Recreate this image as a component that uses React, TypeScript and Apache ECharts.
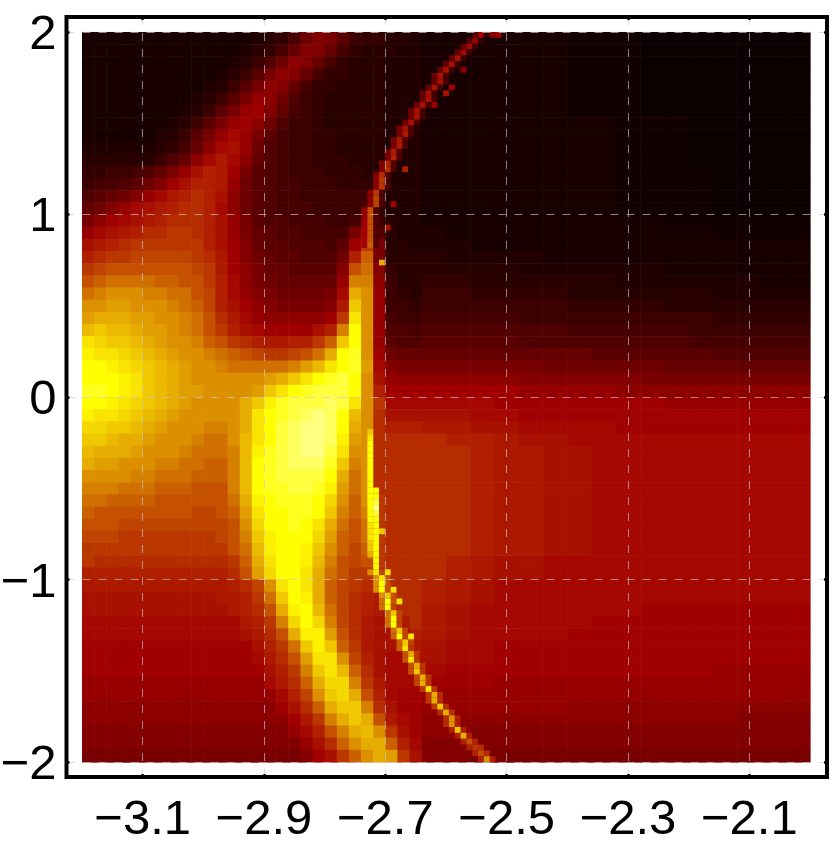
import React, { useEffect, useRef } from "react";
import * as echarts from "echarts";

const xTickValues = [-3.1, -2.9, -2.7, -2.5, -2.3, -2.1];
const yTickValues = [-2, -1, 0, 1, 2];
const colorStops = ["#0c0000","#180000","#280000","#3c0000","#500000","#640000","#780000","#8c0000","#a00000","#a81000","#b02000","#ba3800","#c45000","#d07000","#dc9000","#e6ac00","#f0c800","#f8e400","#ffff00","#ffff40","#ffff80"];

// left part: 28 narrow columns, right part: 16 wide columns; one row per 1/15 of y, top to bottom
const row00 = [1,1,1,1,1,1,1,1,1,1,1,1,1,1,1.5,2,2.5,3.5,5.5,6.5,6,4.5,3,2.5,2.5,2,2,1.5, 1,1,1,1,1,1,0.5,0.5,0.5,0,0,0,0,0,0,0];
const row01 = [1,1,1,1,1,1,1,1,1,1,1,1,1,1.5,2,2.5,3.5,5,6.5,6.5,5,3.5,2.5,2,2,2,1.5,1.5, 1,1,1,1,1,1,0.5,0.5,0.5,0,0,0,0,0,0,0];
const row02 = [1,1,1,1,1,1,1,1,1,1,1,1,1.5,2,3,4,5.5,7,6.5,5,3.5,2.5,2,2,2,1.5,1.5,1.5, 1,1,1,1,1,1,0.5,0.5,0.5,0,0,0,0,0,0,0];
const row03 = [1,1,1,1,1,1,1,1,1,1,1,1.5,2,3,4.5,6,7,6.5,5,3.5,2.5,2.5,2,2,2,1.5,1.5,1.5, 1,1,1,1,1,1,0.5,0.5,0.5,0,0,0,0,0,0,0];
const row04 = [1,1,1,1,1,1,1,1,1,1,1.5,2,3,4.5,6,7,6.5,5,3.5,2.5,2.5,2,2,2,2,1.5,1.5,1.5, 1,1,1,1,1,1,0.5,0.5,0.5,0,0,0,0,0,0,0];
const row05 = [1,1,1,1,1,1,1,1,1,1.5,2,3,4.5,6,7.5,7,5.5,4,3,2.5,2,2,2,2,2,1.5,1.5,1.5, 1,1,1,1,1,1,0.5,0.5,0.5,0,0,0,0,0,0,0];
const row06 = [1,1,1,1,1,1,1,1,1.5,2,3,4.5,6,7.5,8,6.5,5,3.5,3,2.5,2,2,2,2,2,1.5,1.5,1.5, 1,1,1,1,1,1,0.5,0.5,0.5,0,0,0,0,0,0,0];
const row07 = [1,1,1,1,1,1,1,1.5,2,3,4.5,6,7.5,8,7,5.5,4,3,3,2.5,2,2,2,2,2,1.5,1.5,1.5, 1,1,1,1,1,1,1,1,0.5,0.5,0.5,0,0,0,0,0];
const row08 = [1,1,1,1,1,1,1.5,2,3,4.5,6,7.5,8.5,7.5,6,4.5,3.5,3,3,2.5,2.5,2,2,2,2,1.5,1.5,1.5, 1,1,1,1,1,1,1,1,0.5,0.5,0.5,0,0,0,0,0];
const row09 = [1.5,1.5,1.5,1.5,1.5,1.5,2,2.5,3.5,5,7,8.5,9,7.5,5.5,4,3.5,3,3,2.5,2.5,2,2,2,2,1.5,1.5,1.5, 1,1,1,1,1,1,1,1,0.5,0.5,0.5,0,0,0,0,0];
const row10 = [2,2,2,2,2,2,3,4,5,7,8.5,9.5,8.5,7,5,4,3.5,3,3,2.5,2.5,2.5,2,2,2,1.5,1.5,1.5, 1,1,1,1,1,1,1,1,0.5,0.5,0.5,0,0,0,0,0];
const row11 = [2.5,2.5,3,3,3.5,4,5,6,7.5,9,10,9.5,8,6,4.5,4,3.5,3,3,3,2.5,2.5,2.5,2,2,1.5,1.5,1.5, 1,1,1,1,1,1,1,1,0.5,0.5,0.5,0.5,0,0,0,0];
const row12 = [3,3.5,3.5,4,4.5,5.5,6.5,8,9,10,10,9.5,7.5,5.5,4.5,4,3.5,3.5,3,3,3,2.5,2.5,2.5,2,1.5,1.5,1.5, 1,1,1,1,1,1,1,1,0.5,0.5,0.5,0.5,0,0,0,0];
const row13 = [4,4.5,5,5.5,6.5,7.5,8.5,9.5,10,10.5,10,9,7,5.5,4.5,4,3.5,3.5,3,3,3,3,3,3,2,1.5,1.5,1.5, 1,1,1,1,1,1,1,1,0.5,0.5,0.5,0.5,0,0,0,0];
const row14 = [5,5.5,6.5,7.5,8.5,9,9.5,10,10.5,10.5,10,8.5,7,5.5,4.5,4,3.5,3.5,3.5,3,3,3,3,3.5,2.5,1.5,1.5,1.5, 1,1,1,1,1,1,1,1,0.5,0.5,0.5,0.5,0,0,0,0];
const row15 = [6,7,8,8.5,9,9.5,10,10.5,10.5,10.5,10,9,7.5,6,4.5,4,4,3.5,3.5,3.5,3,3,3.5,6,3,2,1.5,1.5, 1,1,1,1,1,1,1,1,1,1,0.5,0.5,0.5,0.5,0.5,0.5];
const row16 = [7.5,8.5,9,9.5,10,10.5,10.5,11,11,10.5,10,9,7.5,6,5,4.5,4,4,3.5,3.5,3.5,3.5,6,9,4,2,1.5,1.5, 1.5,1,1,1,1,1,1,1,1,1,1,1,0.5,0.5,0.5,0.5];
const row17 = [9,9.5,10,10.5,11,11,11,11,11,11,10,9,8,6.5,5,4.5,4.5,4,4,4,3.5,4.5,8,11,6,2,2,1.5, 1.5,1.5,1,1,1,1,1,1,1,1,1,1,1,1,1,1];
const row18 = [10,10.5,11,11,11.5,11.5,11.5,11.5,11.5,11,10.5,9.5,8,6.5,5.5,5,4.5,4.5,4,4,4,5.5,10,12.5,6,2,2,2, 2,1.5,1.5,1.5,1.5,1,1,1,1,1,1,1,1,1,1,1];
const row19 = [11,11.5,12,12,12,12,12,12,12,11.5,11,9.5,8,7,6,5,5,4.5,4.5,4.5,4.5,6.5,12,13,6.5,2.5,2,2, 2,2,2,2,1.5,1.5,1.5,1.5,1.5,1.5,1,1,1,1,1,1];
const row20 = [12,12.5,13,13,13,13,12.5,12.5,12,12,11,10,8.5,7,6,5.5,5,5,5,5,5,7.5,13.5,13.5,7,3,2,2, 2.5,2.5,2,2,2,2,2,2,1.5,1.5,1.5,1.5,1.5,1.5,1,1];
const row21 = [13,13.5,14,14,14,13.5,13.5,13,13,12,11.5,10,8.5,7.5,6.5,6,5.5,5.5,5.5,5.5,6,8.5,15,14,7.5,3,2.5,2, 3,3,2.5,2.5,2.5,2.5,2,2,2,2,2,2,1.5,1.5,1.5,1.5];
const row22 = [14,14,14.5,14.5,14,14,14,13.5,13,12.5,11.5,10,9,8,7,6.5,6,6,6,6,6.5,9.5,16,14,7.5,3,3,2.5, 3,3,3,3,3,3,2.5,2.5,2.5,2.5,2,2,2,2,2,2];
const row23 = [14.5,15,15,15,14.5,14.5,14,14,13.5,13,12,10.5,9.5,8.5,7.5,7,7,7,7,7,8,11,17,14,7.5,3.5,3,3, 3.5,3.5,3.5,3.5,3,3,3,3,3,3,3,3,2.5,2.5,2.5,2.5];
const row24 = [15.5,16,15.5,15.5,15,14.5,14.5,14,13.5,13,12,11,10,9,8.5,8,8,8,8,9,10,13.5,18,14,7.5,4,4,3.5, 4,4,4,4,4,4,3.5,3.5,3.5,3.5,3.5,3,3,3,3,3];
const row25 = [17,16.5,16,16,15.5,15,14.5,14,14,13.5,12.5,12,11,10.5,10,9.5,9.5,10,10,11,12.5,16,18,14,7.5,4.5,4,4, 4.5,4.5,4.5,4.5,4,4,4,4,4,4,4,3.5,3.5,3.5,3.5,3.5];
const row26 = [17.5,17,17,16.5,16,15.5,15,14.5,14,14,13.5,13,12.5,12,11.5,11,11,11.5,12,13,15,18,18.5,14,8,5.5,5,5, 5,5,5,5,5,5,5,4.5,4.5,4.5,4.5,4.5,4,4,4,4];
const row27 = [18,18,17.5,17,16.5,16,15.5,15,14.5,14,14,13.5,13,13,13,13,13,13.5,14.5,15.5,17,18,18.5,14.5,8.5,6.5,6,6, 6,6,6,6,6,5.5,5.5,5.5,5.5,5.5,5,5,5,5,5,5];
const row28 = [18,18,18,17.5,17,16,15.5,15,14.5,14,14,14,14,14,14,14.5,15,16,17,18,18.5,19,18,14,9,7.5,7,7, 7,7,7,7,6.5,6.5,6.5,6.5,6.5,6,6,6,6,6,6,6];
const row29 = [18.5,18.5,18,17.5,17,16,15.5,15,14.5,14.5,14,14,14,14,14.5,16,17,18,18.5,19,19,19,18,14,10,8,8,8, 8,8,8,8,7.5,7.5,7.5,7.5,7,7,7,7,7,7,7,7];
const row30 = [18,18,17.5,17,16.5,16,15.5,15,14.5,14,14,14,14,15,16,17.5,18.5,19,19,19,19.5,19,17,14,11,8.5,8.5,8.5, 8.5,8.5,8.5,8,8,8,8,8,8,8,7.5,7.5,7.5,7.5,7.5,7.5];
const row31 = [17.5,17,17,16.5,16,15.5,15,14.5,14,14,14,14,14,15,17,18,18.5,19,19.5,20,19.5,18,15.5,14,10.5,9,9,9, 9,9,8.5,8.5,8,8,8,8,8,8,8,8,8,8,8,8];
const row32 = [16.5,16.5,16,16,15.5,15,14.5,14,14,14,13.5,13.5,14,15,17,18,19,19.5,20,20,19.5,18,15,14,10.5,10,10,10, 9.5,9.5,9,9,8.5,8.5,8.5,8.5,8,8,8,8,8,8,8,8];
const row33 = [16,16,15.5,15,15,14.5,14,14,14,13.5,13,13,14,15.5,17,18,19,19.5,20,20,19.5,17.5,14.5,14,10.5,10.5,10.5,10.5, 10.5,10,10,9.5,9,9,8.5,8.5,8.5,8.5,8.5,8.5,8.5,8.5,8.5,8.5];
const row34 = [15.5,15,15,15,14.5,14,14,14,13.5,13,13,13,13.5,15.5,17.5,18.5,19,19.5,20,20,19,17,14,14,10.5,10.5,10.5,10.5, 10.5,10.5,10,9.5,9.5,9,9,8.5,8.5,8.5,8.5,8.5,8.5,8.5,8.5,8.5];
const row35 = [15,14.5,14.5,14,14,14,13.5,13.5,13,13,12.5,12.5,13.5,15.5,18,18.5,19,19.5,19.5,19.5,18.5,16,13.5,14,10.5,10.5,10.5,10.5, 10.5,10.5,10,9.5,9.5,9,9,8.5,8.5,8.5,8.5,8.5,8.5,8.5,8.5,8.5];
const row36 = [14,14,14,14,13.5,13.5,13,13,13,12.5,12.5,12.5,13.5,15.5,18,18.5,19,19,19,19,18,15,13,14,10.5,10.5,10.5,10.5, 10.5,10.5,10,9.5,9.5,9,9,8.5,8.5,8.5,8.5,8.5,8.5,8.5,8.5,8.5];
const row37 = [13.5,13.5,13.5,13,13,13,12.5,12.5,12.5,12,12,12,13.5,15.5,18,18.5,18.5,19,19,18.5,17.5,14.5,13,14,10.5,10.5,10.5,10.5, 10.5,10.5,10,9.5,9.5,9,9,8.5,8.5,8.5,8.5,8.5,8.5,8.5,8.5,8.5];
const row38 = [13,13,12.5,12.5,12.5,12.5,12,12,12,12,12,12,13,15,17.5,18,18.5,18.5,18.5,18,16.5,14,12.5,14,11,10.5,10.5,10.5, 10.5,10.5,10,9.5,9.5,9,9,8.5,8.5,8.5,8.5,8.5,8.5,8.5,8.5,8.5];
const row39 = [12.5,12,12,12,12,12,12,12,12,11.5,11.5,12,12.5,14.5,17,18,18,18.5,18.5,18,16,13.5,12.5,13.5,11,10.5,10.5,10.5, 10.5,10.5,10,9.5,9.5,9,9,8.5,8.5,8.5,8.5,8.5,8.5,8.5,8.5,8.5];
const row40 = [12,12,12,11.5,11.5,11.5,11.5,11.5,11.5,11.5,11.5,11.5,12,14,16.5,18,18,18.5,18,17,15,13,12,13,11,10.5,10.5,10.5, 10.5,10.5,10,9.5,9.5,9,9,8.5,8.5,8.5,8.5,8.5,8.5,8.5,8.5,8.5];
const row41 = [11.5,11.5,11.5,11,11,11,11,11,11,11,11,11.5,12,13.5,16,17.5,18,18,18,16.5,14.5,12.5,12,13,11,10.5,10.5,10.5, 10.5,10.5,10,9.5,9.5,9,9,8.5,8.5,8.5,8.5,8.5,8.5,8.5,8.5,8.5];
const row42 = [11,11,11,11,11,11,11,11,11,11,11,11,12,13,15.5,17.5,18,18,17.5,16,14,12.5,11.5,12.5,11,10.5,10.5,10.5, 10.5,10.5,10,9.5,9.5,9,9,8.5,8.5,8.5,8.5,8.5,8.5,8.5,8.5,8.5];
const row43 = [11,10.5,10.5,10.5,10.5,10.5,10.5,10.5,10.5,10.5,10.5,10.5,11,12.5,15,17,18,18,17.5,15.5,13.5,12,11.5,12,11,10.5,10.5,10.5, 10.5,10,9.5,9,9,8.5,8.5,8.5,8.5,8.5,8.5,8.5,8.5,8.5,8.5,8.5];
const row44 = [10,10,10,10,10,10,10,10,10,10,10,10,10.5,12,14.5,16.5,18,18,17,15,13,12,11,11,10.5,10.5,10.5,10.5, 10.5,10,9.5,9,9,8.5,8.5,8.5,8.5,8.5,8.5,8.5,8.5,8.5,8.5,8.5];
const row45 = [9.5,9.5,9.5,9.5,9.5,9.5,9.5,9.5,9.5,9.5,9.5,9.5,10,10.5,11.5,14,17,18,17,15,12.5,11.5,11,10.5,10,10.5,10.5,10.5, 10,9.5,9,8.5,8.5,8.5,8.5,8.5,8.5,8.5,8.5,8.5,8.5,8.5,8.5,8.5];
const row46 = [9,9,9,9,9,9,9,9,9,9,9,9.5,9.5,10,11,13,16,18,17.5,15,12.5,11.5,10.5,10,9.5,10.5,10.5,10.5, 10,9.5,9,8.5,8.5,8.5,8.5,8.5,8.5,8.5,8.5,8.5,8.5,8.5,8.5,8.5];
const row47 = [9,9,9,9,9,9,9,9,9,9,9,9,9.5,10,10.5,12,15,17.5,18,15.5,13,11.5,10.5,10,9.5,9.5,10.5,10.5, 9.5,9,8.5,8.5,8.5,8.5,8.5,8.5,8.5,8,8,8,8,8,8,8];
const row48 = [8.5,8.5,8.5,8.5,8.5,8.5,8.5,8.5,8.5,8.5,8.5,8.5,8.5,9.5,10,11,13.5,16.5,18,16.5,13.5,11.5,10.5,9.5,9,9,9.5,10.5, 9.5,9,8.5,8.5,8.5,8.5,8.5,8,8,8,8,8,8,8,8,8];
const row49 = [8.5,8.5,8.5,8.5,8.5,8.5,8.5,8.5,8.5,8.5,8.5,8.5,8.5,9,9.5,10.5,12,15,17.5,17.5,14.5,12,10.5,9.5,9,9,9,10, 9.5,9,8.5,8.5,8.5,8.5,8,8,8,8,8,8,8,8,8,8];
const row50 = [8,8,8,8,8,8,8,8,8,8,8,8,8,8,9,10,11,13,16,17.5,16,12.5,11,9.5,9,9,9,9.5, 9,8.5,8.5,8,8,8,8,8,8,8,8,8,8,8,8,8];
const row51 = [8,8,8,8,8,8,8,8,8,8,8,8,8,8,8.5,9.5,10.5,12,14.5,17,17,14,11.5,10,9,8.5,8.5,9, 9,8.5,8.5,8,8,8,8,8,8,8,8,8,8,8,8,8];
const row52 = [8,8,8,8,8,8,8,8,8,8,8,8,8,8,8,9,10,11,13.5,16,17,15.5,12.5,10.5,9,8.5,8.5,8.5, 8.5,8,8,8,8,8,8,8,8,8,8,8,7.5,7.5,7.5,7.5];
const row53 = [7.5,7.5,7.5,7.5,7.5,7.5,7.5,7.5,7.5,7.5,7.5,7.5,7.5,7.5,7.5,8.5,9.5,10.5,12.5,15,16.5,16.5,13.5,11,9.5,8.5,8.5,8.5, 8,8,8,7.5,7.5,7.5,7.5,7.5,7.5,7.5,7.5,7.5,7.5,7.5,7.5,7.5];
const row54 = [7.5,7.5,7.5,7.5,7.5,7.5,7.5,7.5,7.5,7.5,7.5,7.5,7.5,7.5,7.5,7.5,8.5,10,11.5,14,16,16.5,15,12,10,8.5,8,8, 7.5,7.5,7.5,7.5,7.5,7.5,7.5,7.5,7.5,7.5,7.5,7.5,7.5,7.5,7.5,7.5];
const row55 = [7,7,7,7,7,7,7,7,7,7,7,7,7,7,7,7,8,9,10.5,12.5,15,16,16,13.5,10.5,9,8,8, 7.5,7.5,7.5,7.5,7.5,7.5,7,7,7,7,7,7,7,7,7,7];
const row56 = [7,7,7,7,7,7,7,7,7,7,7,7,7,7,7,7,7,8,9.5,11,13.5,15,16,15,12,9.5,8.5,8, 7,7,7,7,7,7,7,7,7,7,7,7,7,6.5,6.5,6.5];
const row57 = [6.5,6.5,6.5,6.5,6.5,6.5,6.5,6.5,6.5,6.5,6.5,6.5,6.5,6.5,6.5,6.5,6.5,7.5,8.5,10,12,13.5,15,15.5,14,11,9,8, 7,7,6.5,6.5,6.5,6.5,6.5,6.5,6.5,6.5,6.5,6.5,6.5,6.5,6.5,6.5];
const row58 = [6.5,6.5,6.5,6.5,6.5,6.5,6.5,6.5,6.5,6.5,6.5,6.5,6.5,6.5,6.5,6.5,6.5,6.5,7.5,9,10.5,12.5,14,15,15,12.5,10,8.5, 6.5,6.5,6.5,6.5,6.5,6.5,6.5,6.5,6.5,6.5,6.5,6.5,6.5,6.5,6.5,6.5];
const row59 = [6,6,6,6,6,6,6,6,6,6,6,6,6,6,6,6,6,6,6.5,8,9,11,12.5,14,15,14.5,11,9, 6.5,6.5,6,6,6,6,6,6,6,6,6,6,6,6,6,6];
const baseRows = [row00,row01,row02,row03,row04,row05,row06,row07,row08,row09,row10,row11,row12,row13,row14,row15,row16,row17,row18,row19,row20,row21,row22,row23,row24,row25,row26,row27,row28,row29,row30,row31,row32,row33,row34,row35,row36,row37,row38,row39,row40,row41,row42,row43,row44,row45,row46,row47,row48,row49,row50,row51,row52,row53,row54,row55,row56,row57,row58,row59];

// cells of the 125 x 125 sampling grid along the thin arc, upper part: column, row from top, value
const upperCols = [68,67,66,65,64,63,62,61,61,60,59,59,58,57,57,56,55,55,54,54,53,53,52,52,51,51,51,50,50,50,49,49,49,49,49,49,49];
const upperRows = [0,1,2,3,4,5,6,7,8,9,10,11,12,13,14,15,16,17,18,19,20,21,22,23,24,25,26,27,28,29,30,31,32,33,34,35,36];
const upperVals = [8,8,8.5,8.5,9,9,9,9,9,9,9,9,9,9,9,9,9,9.5,9.5,9.5,9.5,10,10,10.5,10.5,11,11,11,11.5,11.5,12,12,12,12,12,12,12.5];
const upperLeftVals = [4,4,5,5,5,5,5,5,5,5,5,5.5,5.5,5.5,5.5,5.5,6,6,6,6,6,6,6.5,6.5,6.5,7,7,7,7,7,7.5,7.5,8,8,8,8,8];
const upperRightVals = [2.5,2.5,3,3,3,3,3,3.5,3.5,3.5,3.5,3.5,3.5,3.5,3.5,4,4,4,4,4,4,4,4,4,4,4,4,4,4,4,4,4,4,4,4,4,4];

// single bright cells beside the arc
const spotCols = [71,70,65,63,62,60,55,53,52,51,51,51,52,53,54,56];
const spotRows = [0,0,6,9,10,12,23,29,33,39,40,85,92,95,97,103];
const spotVals = [8,7,7,8,9,8,10,8,9,15,7,16,17,17,17,17];

// the yellow stretch of the arc
const lowerCols = [49,49,49,49,49,49,49,49,49,49,49,49,49,49,49,49,49,49,49,49,49,49,50,50,50,50,50,50,50,50,50,50,50,50,50,50,50,51,51,51,52,52,52,53,53,53,54,54,55,55,56,56,57,57,58,58,59,60,60,61,62,63,63,64,65,66,67,68,69];
const lowerRows = [68,69,70,71,72,73,74,75,76,77,78,79,80,81,82,83,84,85,86,87,88,89,78,79,80,81,82,83,84,85,86,87,88,89,90,91,92,93,94,95,96,97,98,99,100,101,102,103,104,105,106,107,108,109,110,111,112,113,114,115,116,117,118,119,120,121,122,123,124];
const lowerVals = [16,17,18,18,18,18,18,18,18,18,18,18,18,18,18,18,17,17,17,16,16,15,18,18,19,20,19,18,18,18,18,18,18,18,18,18,17,17,18,18,16,18,18,16,18,18,16,18,16,17,15,17,15,16,15,15,17,15,15,16,15,14,14,16,15,12,11,12,14];

// orange fringe on both sides of the lower arc, rows 92 to 124
const fringeRows = [92,93,94,95,96,97,98,99,100,101,102,103,104,105,106,107,108,109,110,111,112,113,114,115,116,117,118,119,120,121,122,123,124];
const fringeLeftCols = [49,50,50,50,51,51,51,52,52,52,53,53,54,54,55,55,56,56,57,57,58,59,59,60,61,62,62,63,64,65,66,67,68];
const fringeRightCols = [51,52,52,52,53,53,53,54,54,54,55,55,56,56,57,57,58,58,59,59,60,61,61,62,63,64,64,65,66,67,68,69,70];
const fringeLeftVals = [14,14,14,14,14,13,13,13,13,13,13,12.5,12.5,12.5,12,12,12,12,11.5,11.5,11,11,11,11,10.5,10.5,10.5,10,10,10,10,10,10];
const fringeRightVals = [11.5,12,12,12,12,12,11.5,11.5,11.5,11.5,11.5,11.5,11.5,11,11,11,11,11,11,11,11,10.5,10.5,10.5,10.5,10,10,10,10,10,10.5,10.5,10];

const X_MIN = -3.2, Y_MAX = 2;
const NARROW = 0.02, WIDE = 0.04, ROW_H = 1 / 15;
const FINE_W = 1.2 / 125, FINE_H = 4 / 125;

function columnLeft(i: number) {
  return i < 28 ? X_MIN + i * NARROW : X_MIN + 28 * NARROW + (i - 28) * WIDE;
}
const baseData: number[][] = [];
baseRows.forEach((row, r) => {
  row.forEach((v, c) => {
    const w = c < 28 ? NARROW : WIDE;
    baseData.push([columnLeft(c) + w / 2, Y_MAX - (r + 0.5) * ROW_H, v, w, ROW_H]);
  });
});
const fine = (c: number, r: number, v: number) => [X_MIN + (c + 0.5) * FINE_W, Y_MAX - (r + 0.5) * FINE_H, v, FINE_W, FINE_H];
const arcData = [
  ...upperCols.map((c, i) => fine(c - 1, upperRows[i], upperLeftVals[i])),
  ...upperCols.map((c, i) => fine(c + 1, upperRows[i], upperRightVals[i])),
  ...fringeRows.map((r, i) => fine(fringeLeftCols[i], r, fringeLeftVals[i])),
  ...fringeRows.map((r, i) => fine(fringeRightCols[i], r, fringeRightVals[i])),
  ...upperCols.map((c, i) => fine(c, upperRows[i], upperVals[i])),
  ...lowerCols.map((c, i) => fine(c, lowerRows[i], lowerVals[i])),
  ...spotCols.map((c, i) => fine(c, spotRows[i], spotVals[i])),
];

const renderCell = (overlap: number) => (_: any, api: any) => {
  const x = api.value(0), y = api.value(1), w = api.value(3), h = api.value(4);
  const a = api.coord([x - w / 2, y + h / 2]);
  const b = api.coord([x + w / 2, y - h / 2]);
  return {
    type: "rect",
    shape: { x: a[0], y: a[1], width: b[0] - a[0] + overlap, height: b[1] - a[1] + overlap },
    style: { fill: api.visual("color") },
  };
};

const minus = (v: number) => String(v).replace("-", "\u2212");
const labelFont = { fontFamily: "Liberation Sans", fontSize: 49, color: "#000" };
const gridLine = { show: true, lineStyle: { color: "rgba(200,200,215,0.65)", width: 1, type: [8, 8] as number[] } };

export default function App() {
  const ref = useRef<HTMLDivElement>(null);
  useEffect(() => {
    const chart = echarts.init(ref.current!, undefined, { renderer: "svg" });
    const tick = { show: true, inside: true, length: 3, lineStyle: { color: "#000", width: 2.5 } };
    const line = { show: false, onZero: false };
    const xBase = { type: "value" as const, min: -3.2255, max: -1.972, z: 10, axisLine: line };
    const yBase = { type: "value" as const, min: -2.082, max: 2.082, z: 10, axisLine: line };
    chart.setOption({
      animation: false,
      grid: { left: 66.5, top: 17, width: 760.5, height: 760, outerBoundsMode: "none", show: true, borderColor: "#000", borderWidth: 4, backgroundColor: "transparent", z: 20 },
      xAxis: [
        { ...xBase, position: "bottom",
          axisTick: { ...tick, customValues: xTickValues },
          axisLabel: { ...labelFont, margin: 15, customValues: xTickValues, formatter: minus },
          splitLine: gridLine },
        { ...xBase, position: "top",
          axisTick: { ...tick, customValues: xTickValues },
          axisLabel: { show: false, customValues: xTickValues },
          splitLine: { show: false } },
      ],
      yAxis: [
        { ...yBase, position: "left",
          axisTick: { ...tick, customValues: yTickValues },
          axisLabel: { ...labelFont, margin: 10, customValues: yTickValues, formatter: minus },
          splitLine: gridLine },
        { ...yBase, position: "right",
          axisTick: { ...tick, customValues: yTickValues },
          axisLabel: { show: false, customValues: yTickValues },
          splitLine: { show: false } },
      ],
      visualMap: { show: false, type: "continuous", min: 0, max: 20, dimension: 2, seriesIndex: [0, 1], inRange: { color: colorStops } },
      series: [
        { type: "custom", coordinateSystem: "cartesian2d", xAxisIndex: 0, yAxisIndex: 0, data: baseData, renderItem: renderCell(0.6), encode: { x: 0, y: 1 }, silent: true, z: 2 },
        { type: "custom", coordinateSystem: "cartesian2d", xAxisIndex: 0, yAxisIndex: 0, data: arcData, renderItem: renderCell(0), encode: { x: 0, y: 1 }, silent: true, z: 3 },
      ],
    });
    return () => chart.dispose();
  }, []);
  return <div ref={ref} style={{ position: "fixed", left: 0, top: 0, width: 830, height: 849 }} />;
}
